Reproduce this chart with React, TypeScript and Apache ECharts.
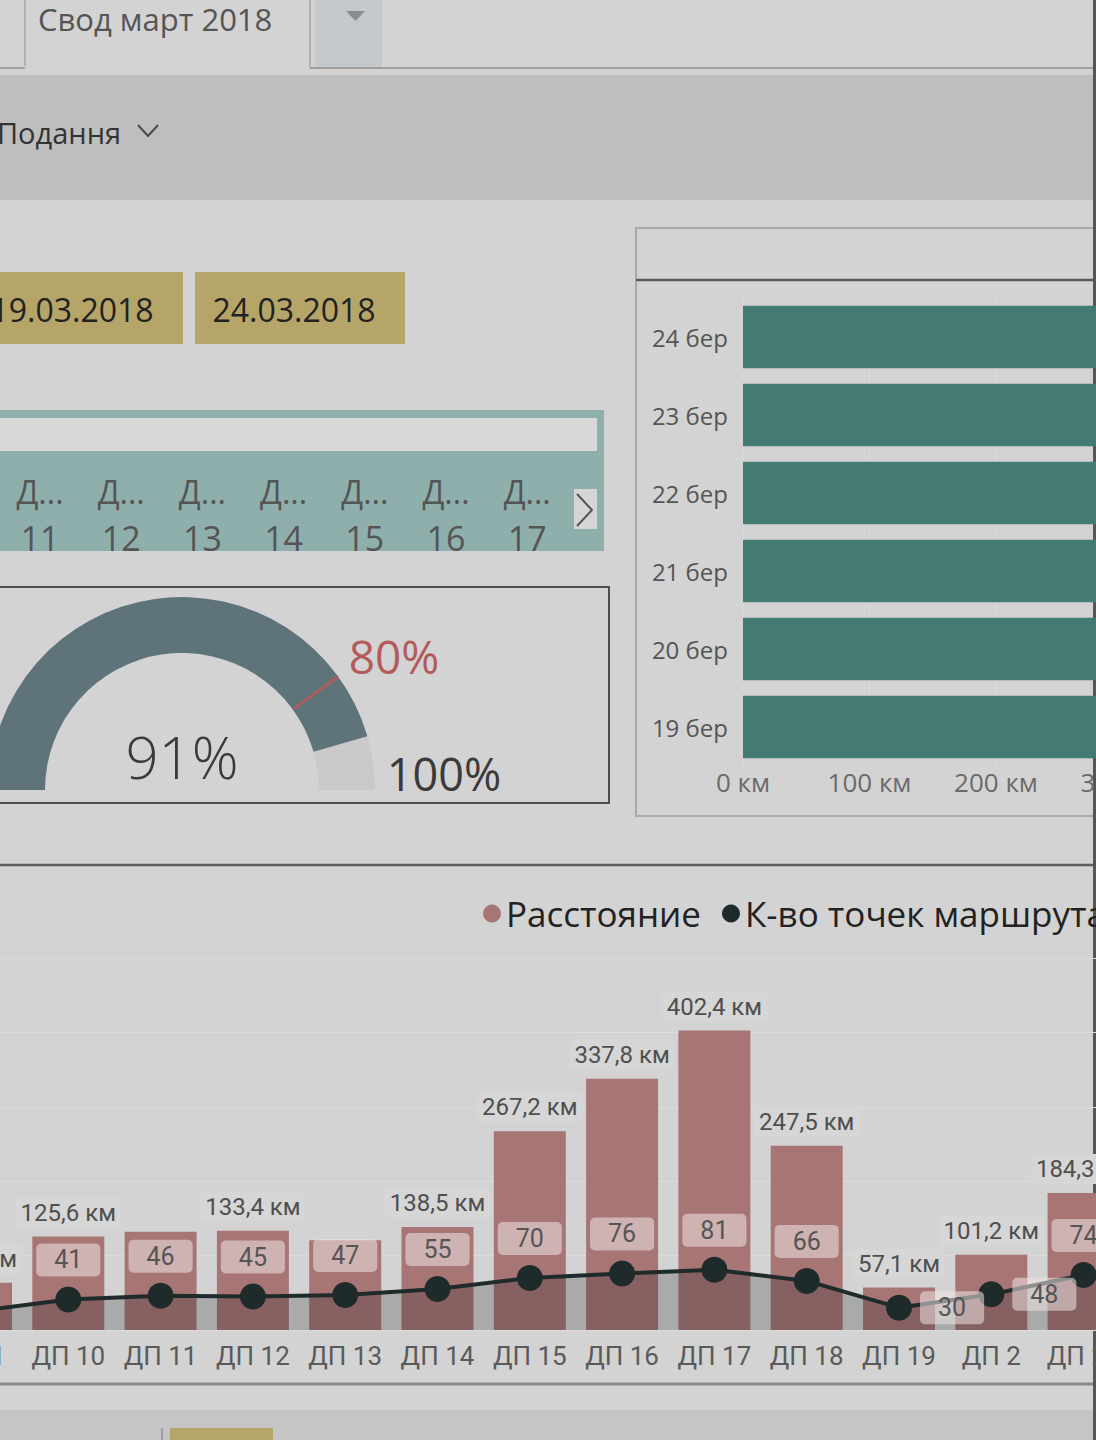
import React, { useEffect, useRef } from "react";
import * as echarts from "echarts";

// ---- canvas geometry (page is cropped: chart canvas is wider and shifted left) ----
const OX = 200;
const CW = 1700;
const CH = 1440;

// ---- texts ----
const tabTitle = "Свод март 2018";
const toolbarLabel = "Подання";
const dateChips = ["19.03.2018", "24.03.2018"];
const slicerHead = "Д...";
const slicerNumbers = ["11", "12", "13", "14", "15", "16", "17"];

// ---- gauge ----
const gaugeValue = 91;
const gaugeTarget = 80;
const gaugeMax = 100;

// ---- distance per day (horizontal bars) ----
const dayCategories = ["19 бер", "20 бер", "21 бер", "22 бер", "23 бер", "24 бер"];
const dayDistanceKm = [402.1, 385.6, 428.3, 411.7, 396.4, 418.9];
const dayAxisMax = 500;
const dayAxisStep = 100;

// ---- distance & route points per DP (combo) ----
const routeCategories = [
  "ДП 1", "ДП 10", "ДП 11", "ДП 12", "ДП 13", "ДП 14", "ДП 15",
  "ДП 16", "ДП 17", "ДП 18", "ДП 19", "ДП 2", "ДП 20", "ДП 21",
];
const distanceKm = [63.4, 125.6, 131.9, 133.4, 120.5, 138.5, 267.2, 337.8, 402.4, 247.5, 57.1, 101.2, 184.3, 150.0];
const distanceLabelShown = [true, true, false, true, false, true, true, true, true, true, true, true, true, true];
const routePoints = [25, 41, 46, 45, 47, 55, 70, 76, 81, 66, 30, 48, 74, 72];
const pointLabelPos = ["left", "top", "top", "top", "top", "top", "top", "top", "top", "top", "right", "right", "top", "top"];
const legendNames = ["Расстояние", "К-во точек маршрута"];
const comboAxisMax = 500;
const comboAxisStep = 100;

const UI = "'Open Sans', 'Noto Sans', sans-serif";
const DIN = "Roboto, 'Noto Sans', sans-serif";

const X = (x: number) => x + OX;
const rect = (x: number, y: number, w: number, h: number, fill: string, extra: any = {}) => ({
  type: "rect",
  silent: true,
  shape: { x: X(x), y, width: w, height: h },
  style: { fill, ...extra },
});
const line = (x1: number, y1: number, x2: number, y2: number, stroke: string, lineWidth: number) => ({
  type: "line",
  silent: true,
  shape: { x1: X(x1), y1, x2: X(x2), y2 },
  style: { stroke, lineWidth },
});
const text = (x: number, y: number, t: string, fontSize: number, fill: string, align = "left", extra: any = {}) => ({
  type: "text",
  silent: true,
  x: X(x),
  y,
  style: { text: t, fontSize, fill, fontFamily: UI, align, verticalAlign: "middle", ...extra },
});
const poly = (pts: number[][], stroke: string, lineWidth: number) => ({
  type: "polyline",
  silent: true,
  shape: { points: pts.map((p) => [X(p[0]), p[1]]) },
  style: { stroke, lineWidth, fill: "none" },
});

function buildOption(): any {
  const graphics: any[] = [
    // top tab bar
    rect(315, 0, 67, 68, "#c4c9cd"),
    {
      type: "polygon",
      silent: true,
      shape: { points: [[X(346), 11], [X(365), 11], [X(355.5), 21]] },
      style: { fill: "#8c8c8c" },
    },
    line(25, 0, 25, 66, "#a6a6a6", 1.5),
    line(310, 0, 310, 68, "#a6a6a6", 1.5),
    line(0, 68, 25, 68, "#a0a0a0", 2),
    line(310, 68, 1096, 68, "#a0a0a0", 2),
    text(38, 19, tabTitle, 31, "#555555"),
    // toolbar
    rect(-10, 75, 1120, 125, "#bebebe"),
    text(-3, 132, toolbarLabel, 29, "#333333"),
    poly([[138, 125], [148, 136], [158, 125]], "#4a4a4a", 2),
    // slicer
    rect(-10, 410, 614, 141, "#8fafad"),
    rect(-10, 418, 607, 33, "#d8d8d8"),
    rect(574, 489, 23, 40, "#d5d5d5"),
    poly([[577, 494], [592, 510], [577, 526]], "#555555", 2),
    // gauge box
    {
      type: "rect",
      silent: true,
      shape: { x: X(-10), y: 587, width: 619, height: 216 },
      style: { fill: "none", stroke: "#4d4d4d", lineWidth: 2 },
    },
    // right panel
    {
      type: "rect",
      silent: true,
      shape: { x: X(636), y: 228, width: 470, height: 588 },
      style: { fill: "none", stroke: "#a9a9a9", lineWidth: 2 },
    },
    line(636, 280, 1096, 280, "#5b5b5b", 2.5),
    // combo panel separators
    line(0, 865, 1096, 865, "#5e5e5e", 2.5),
    line(0, 1384, 1096, 1384, "#8a8a8a", 3),
    rect(-10, 1410, 1120, 30, "#c5c5c5"),
    rect(170, 1428, 103, 12, "#b6a569"),
    line(162, 1428, 162, 1440, "#98a0b0", 2),
    // gauge target / max labels
    text(394, 656, `${gaugeTarget}%`, 46, "#b35b5b", "center"),
    text(444, 773, `${gaugeMax}%`, 45, "#3a3a3a", "center"),
    // right edge
    line(1094.5, 0, 1094.5, 1440, "#555555", 3),
  ];

  dateChips.forEach((d, i) => {
    const x0 = -27 + i * 222;
    graphics.push(rect(x0, 272, 210, 72, "#b6a569"));
    graphics.push(text(x0 + 99, 309, d, 32, "#222222", "center"));
  });
  slicerNumbers.forEach((n, i) => {
    const cx = 40 + i * 81.2;
    graphics.push(text(cx, 491, slicerHead, 32, "#555555", "center"));
    graphics.push(text(cx, 538, n, 34, "#555555", "center"));
  });

  const fmtKm = (v: number) => v.toFixed(1).replace(".", ",") + " км";

  return {
    animation: false,
    backgroundColor: "#d3d3d3",
    graphic: graphics,
    legend: {
      show: true,
      left: X(478),
      top: 891,
      selectedMode: false,
      icon: "circle",
      itemWidth: 18,
      itemHeight: 18,
      itemGap: 21,
      textStyle: { fontFamily: UI, fontSize: 35, color: "#222222" },
      data: legendNames,
    },
    grid: [
      { left: X(743), top: 298, width: 632.5, height: 468, containLabel: false },
      { left: X(-70.15), top: 958, width: 92.3 * routeCategories.length, height: 372, containLabel: false },
    ],
    xAxis: [
      {
        type: "value",
        gridIndex: 0,
        min: 0,
        max: dayAxisMax,
        interval: dayAxisStep,
        axisLine: { show: false },
        axisTick: { show: false },
        splitLine: { show: true, lineStyle: { color: "#dadada", width: 1 } },
        axisLabel: {
          formatter: "{value} км",
          fontFamily: UI,
          fontSize: 26,
          color: "#6a6a6a",
          margin: 3,
        },
      },
      {
        type: "category",
        gridIndex: 1,
        data: routeCategories,
        axisLine: { show: false },
        axisTick: { show: false },
        axisLabel: { interval: 0, fontFamily: DIN, fontSize: 26, color: "#5a5a5a", margin: 13 },
      },
    ],
    yAxis: [
      {
        type: "category",
        gridIndex: 0,
        data: dayCategories,
        axisLine: { show: false },
        axisTick: { show: false },
        axisLabel: { fontFamily: UI, fontSize: 24, color: "#555555", margin: 15 },
      },
      {
        type: "value",
        gridIndex: 1,
        min: 0,
        max: comboAxisMax,
        interval: comboAxisStep,
        axisLine: { show: false },
        axisTick: { show: false },
        axisLabel: { show: false },
        splitLine: { show: true, lineStyle: { color: "#dcdcdc", width: 1 } },
      },
      {
        type: "value",
        gridIndex: 1,
        min: 0,
        max: comboAxisMax,
        show: false,
        splitLine: { show: false },
      },
    ],
    series: [
      {
        name: "Гейдж",
        type: "gauge",
        center: [X(182), 790],
        radius: 193,
        startAngle: 180,
        endAngle: 0,
        min: 0,
        max: gaugeMax,
        axisLine: {
          lineStyle: {
            width: 56,
            color: [
              [gaugeValue / gaugeMax, "#5f737b"],
              [1, "#c9c9c9"],
            ],
          },
        },
        pointer: { show: false },
        progress: { show: false },
        axisTick: { show: false },
        splitLine: { show: false },
        axisLabel: { show: false },
        anchor: { show: false },
        title: { show: false },
        detail: {
          offsetCenter: [0, -34],
          fontSize: 58,
          fontFamily: UI,
          fontWeight: 300,
          color: "#3a3a3a",
          formatter: "{value}%",
        },
        data: [{ value: gaugeValue }],
      },
      {
        name: "Цель",
        type: "gauge",
        center: [X(182), 790],
        radius: 193,
        startAngle: 180,
        endAngle: 0,
        min: 0,
        max: gaugeMax,
        z: 4,
        axisLine: {
          lineStyle: {
            width: 56,
            color: [
              [gaugeTarget / gaugeMax - 0.0025, "rgba(0,0,0,0)"],
              [gaugeTarget / gaugeMax + 0.0025, "#b35b5b"],
              [1, "rgba(0,0,0,0)"],
            ],
          },
        },
        pointer: { show: false },
        progress: { show: false },
        axisTick: { show: false },
        splitLine: { show: false },
        axisLabel: { show: false },
        anchor: { show: false },
        title: { show: false },
        detail: { show: false },
        data: [{ value: gaugeTarget }],
      },
      {
        name: "По дням",
        type: "bar",
        xAxisIndex: 0,
        yAxisIndex: 0,
        barCategoryGap: "20%",
        itemStyle: { color: "#437b73" },
        data: dayDistanceKm,
      },
      {
        name: legendNames[0],
        type: "bar",
        xAxisIndex: 1,
        yAxisIndex: 1,
        barWidth: 72,
        itemStyle: { color: "#a87575" },
        label: {
          show: true,
          position: "top",
          distance: 9,
          fontFamily: DIN,
          fontSize: 24,
          color: "#4f4f4f",
          backgroundColor: "#d6d6d6",
          borderRadius: 3,
          padding: [3, 5],
          formatter: (p: any) => fmtKm(p.value),
        },
        data: distanceKm.map((v, i) => ({ value: v, label: { show: distanceLabelShown[i] } })),
      },
      {
        name: legendNames[1],
        type: "line",
        xAxisIndex: 1,
        yAxisIndex: 2,
        z: 5,
        symbol: "circle",
        symbolSize: 26,
        itemStyle: { color: "#1f2b2b" },
        lineStyle: { color: "#1f2b2b", width: 4 },
        areaStyle: { color: "rgba(20,30,30,0.31)" },
        label: {
          show: true,
          fontFamily: DIN,
          fontSize: 25,
          color: "#555555",
          backgroundColor: "rgba(238,228,228,0.55)",
          borderRadius: 5,
          padding: [4, 18],
          formatter: "{c}",
        },
        data: routePoints.map((v, i) => ({
          value: v,
          label: { position: pointLabelPos[i], distance: pointLabelPos[i] === "top" ? 10 : 8 },
        })),
      },
    ],
  };
}

export default function App() {
  const ref = useRef<HTMLDivElement>(null);
  useEffect(() => {
    if (!ref.current) return;
    const chart = echarts.init(ref.current, undefined, { renderer: "svg", width: CW, height: CH });
    chart.setOption(buildOption());
    return () => chart.dispose();
  }, []);
  return (
    <div
      style={{
        position: "fixed",
        left: 0,
        top: 0,
        width: 1096,
        height: 1440,
        overflow: "hidden",
        background: "#d3d3d3",
      }}
    >
      <div ref={ref} style={{ position: "absolute", left: -OX, top: 0, width: CW, height: CH }} />
    </div>
  );
}
